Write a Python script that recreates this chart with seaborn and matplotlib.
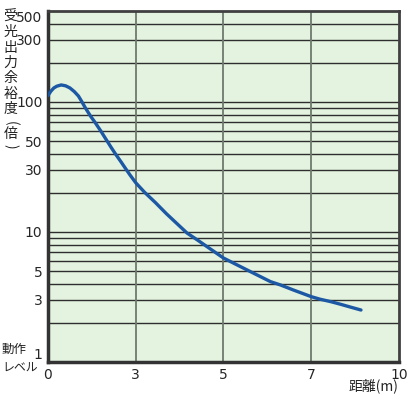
import matplotlib
matplotlib.use('Agg')
import matplotlib.pyplot as plt
import numpy as np
import pandas as pd
import seaborn as sns

# data
distance = [0.0, 0.1, 0.2, 0.3, 0.45, 0.6, 0.75, 0.9, 1.04, 1.15, 1.27, 1.45, 1.6, 1.8,
            1.95, 2.15, 2.3, 2.5, 2.64, 2.8, 3.0, 3.2, 3.45, 3.7, 3.95, 4.17, 4.4, 4.7,
            5.0, 5.3, 5.6, 6.07, 6.3, 6.6, 7.0, 7.3, 7.67, 8.0, 8.35, 8.7]
margin = [112, 121, 128, 132, 135, 133, 128, 120, 111, 101, 90.5, 78, 70, 60,
          53, 45, 40, 34.5, 31, 27.5, 23.9, 20.2, 16.8, 13.8, 11.5, 9.8, 8.7, 7.4,
          6.3, 5.6, 4.98, 4.15, 3.91, 3.57, 3.18, 3.04, 2.91, 2.78, 2.64, 2.51]

x_ticks = [0, 3, 5, 7, 10]
y_ticks = [1, 3, 5, 10, 30, 50, 100, 300, 500]
y_title = ['受', '光', '出', '力', '余', '裕', '度', '倍']
y_title_pos = [17, 32, 48, 63, 78, 94, 109, 134]

df = pd.DataFrame({'distance': distance, 'margin': margin})

sns.set_style('white')
plt.rcParams['font.family'] = ['Noto Sans CJK JP', 'DejaVu Sans']

fig = plt.figure(figsize=(4.1, 3.97), dpi=100)
ax = fig.add_axes([48 / 410, 35 / 397, 351 / 410, 351 / 397])
ax.set_facecolor('#e3f3df')

# horizontal grid lines (1-2-...-9 per decade)
for dec in [1, 10, 100]:
    for m in range(1, 10):
        v = dec * m
        if 1 < v < 500:
            ax.axhline(v, color='#2e2e2e', lw=1.0, zorder=1)
for xv in [3, 5, 7]:
    ax.axvline(xv, color='#6e7a6e', lw=1.3, zorder=1)

sns.lineplot(data=df, x='distance', y='margin', ax=ax, color='#1c58a4',
             lw=2.4, sort=False, zorder=3)

# x axis: tick labels are equally spaced
us = [0, 1, 2, 3, 4]
ax.set_xscale('function', functions=(lambda x: np.interp(x, x_ticks, us),
                                     lambda u: np.interp(u, us, x_ticks)))
ax.set_yscale('log')
ax.set_xlim(0, 10)
ax.set_ylim(1, 500)

ax.set_xticks(x_ticks)
ax.set_xticklabels([str(t) for t in x_ticks])
ax.set_yticks(y_ticks)
ax.set_yticklabels([str(t) for t in y_ticks])
ax.minorticks_off()
ax.tick_params(length=0, pad=4, labelsize=10)
for lab in ax.get_xticklabels() + ax.get_yticklabels():
    lab.set_family('Liberation Sans Narrow')
ax.get_yticklabels()[-1].set_va('top')
ax.get_yticklabels()[0].set_va('bottom')

for side in ['left', 'bottom']:
    ax.spines[side].set_linewidth(2.5)
    ax.spines[side].set_color('#333333')
for side in ['top', 'right']:
    ax.spines[side].set_linewidth(2)
    ax.spines[side].set_color('#404040')

ax.set_xlabel('')
ax.set_ylabel('')

# vertical y-axis title, one character per line
for ch, py in zip(y_title, y_title_pos):
    fig.text(10.5 / 410, 1 - py / 397, ch, ha='center', va='center',
             fontsize=10, color='#222222')
fig.text(10.5 / 410, 1 - 123 / 397, '(', ha='center', va='center', rotation=-90,
         fontsize=10, color='#222222')
fig.text(10.5 / 410, 1 - 146 / 397, ')', ha='center', va='center', rotation=-90,
         fontsize=10, color='#222222')

fig.text(2 / 410, 1 - 349 / 397, '動作', ha='left', va='center', fontsize=9, color='#222222')
fig.text(2 / 410, 1 - 368 / 397, 'レベル', ha='left', va='center', fontsize=8.6, color='#222222')
fig.text(398 / 410, 1 - 386 / 397, '距離(m)', ha='right', va='center', fontsize=10,
         color='#222222')

fig.savefig('out.png', dpi=100)
